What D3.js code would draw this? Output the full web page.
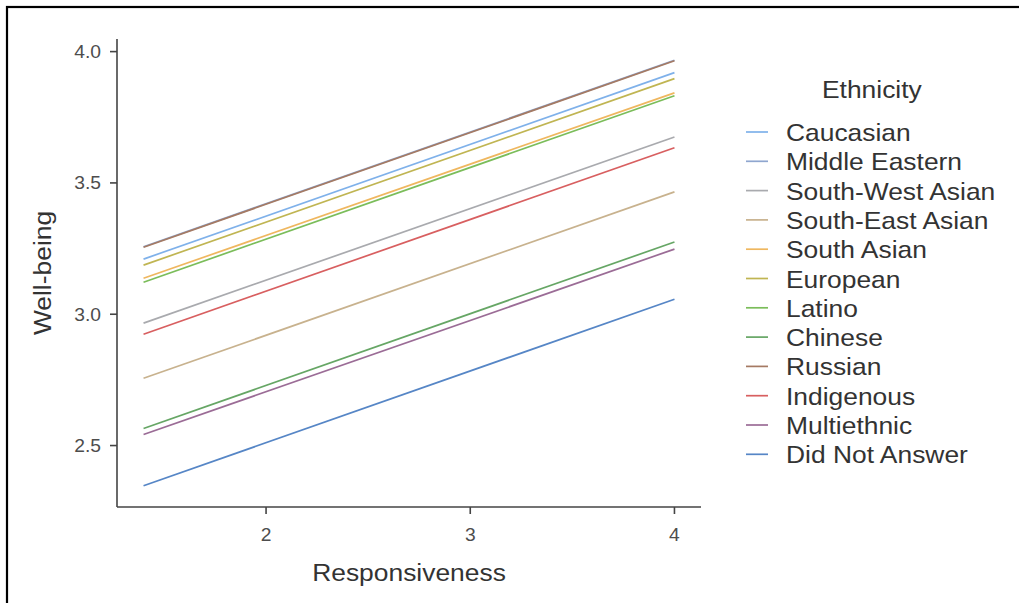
<!DOCTYPE html>
<html lang="en">
<head>
	<meta charset="utf-8">
	<title>Well-being by Responsiveness</title>
	<script type="text/javascript" src="https://cdn.jsdelivr.net/npm/d3@7"></script>
	<style type="text/css">
		body {
			margin: 0;
			background: #fff;
			font-family: "Liberation Sans", Helvetica, Arial, sans-serif;
		}
		svg text {
			font-family: "Liberation Sans", Helvetica, Arial, sans-serif;
		}
	</style>
</head>
<body>
	<div id="viz"></div>
	<script type="text/javascript">
	var W = 1019;
	var H = 603;

	// fitted lines, one per ethnicity, read at responsiveness 1.4 and 4
	var ethnicity = ["Caucasian", "Middle Eastern", "South-West Asian", "South-East Asian", "South Asian",
		"European", "Latino", "Chinese", "Russian", "Indigenous", "Multiethnic", "Did Not Answer"];
	var lineColors = ["#7fb1ea", "#8fa6cf", "#a9aaae", "#c8b28e", "#efb75f",
		"#c0b552", "#7bbd5a", "#66a665", "#a57a63", "#d85f60", "#9b6c96", "#5686c6"];
	var xStart = 1.4;
	var xEnd = 4;
	var wbStart = [3.21, 3.257, 2.966, 2.756, 3.137, 3.187, 3.122, 2.565, 3.255, 2.924, 2.542, 2.347];
	var wbEnd = [3.92, 3.967, 3.675, 3.466, 3.843, 3.897, 3.832, 3.275, 3.965, 3.634, 3.248, 3.057];
	var xTicks = [2, 3, 4];
	var yTicks = [2.5, 3.0, 3.5, 4.0];

	var lines = ethnicity.map(function(e, i) {
		return {name: e, color: lineColors[i], pts: [[xStart, wbStart[i]], [xEnd, wbEnd[i]]]};
	});

	var svg = d3.select("#viz").append("svg")
		.attr("width", W)
		.attr("height", H);

	// frame of the cropped figure
	svg.append("rect")
		.attr("x", 7).attr("y", 7)
		.attr("width", W + 20).attr("height", H + 20)
		.attr("fill", "none")
		.attr("stroke", "#000")
		.attr("stroke-width", 2.2);

	var allY = wbStart.concat(wbEnd);
	var ymin = d3.min(allY), ymax = d3.max(allY);
	var yPad = (ymax - ymin) * 0.05;
	var xPad = (xEnd - xStart) * 0.05;

	var x = d3.scaleLinear().domain([xStart - xPad, xEnd + xPad]).range([117, 701]);
	var y = d3.scaleLinear().domain([ymin - yPad, ymax + yPad]).range([507, 39]);

	// stretched text, the picture is a little wider than tall
	function stext(g, tx, ty, str, size, anchor, fill, rot) {
		var t = g.append("g")
			.attr("transform", "translate(" + tx + "," + ty + ")" + (rot ? " rotate(" + rot + ")" : "") + " scale(1.1,1)")
			.append("text")
			.attr("text-anchor", anchor)
			.attr("font-size", size)
			.attr("fill", fill)
			.text(str);
		return t;
	}

	// axes
	var ax = svg.append("g");
	ax.append("line")
		.attr("x1", 117).attr("x2", 117)
		.attr("y1", 39).attr("y2", 507)
		.attr("stroke", "#444").attr("stroke-width", 1.6);
	ax.append("line")
		.attr("x1", 117).attr("x2", 701)
		.attr("y1", 507).attr("y2", 507)
		.attr("stroke", "#444").attr("stroke-width", 1.6);

	ax.selectAll(".yt").data(yTicks).enter().append("line")
		.attr("x1", 110).attr("x2", 117)
		.attr("y1", function(d){return y(d)})
		.attr("y2", function(d){return y(d)})
		.attr("stroke", "#444").attr("stroke-width", 1.6);
	yTicks.forEach(function(d) {
		stext(ax, 101, y(d) + 6.5, d3.format(".1f")(d), 17.5, "end", "#4d4d4d");
	});

	ax.selectAll(".xt").data(xTicks).enter().append("line")
		.attr("x1", function(d){return x(d)})
		.attr("x2", function(d){return x(d)})
		.attr("y1", 507).attr("y2", 514)
		.attr("stroke", "#444").attr("stroke-width", 1.6);
	xTicks.forEach(function(d) {
		stext(ax, x(d), 541, d3.format("d")(d), 17.5, "middle", "#4d4d4d");
	});

	stext(svg, 409, 581, "Responsiveness", 24, "middle", "#333");
	stext(svg, 51, 273, "Well-being", 24, "middle", "#333", -90);

	// lines
	var line = d3.line()
		.x(function(d){return x(d[0])})
		.y(function(d){return y(d[1])});

	svg.append("g").selectAll("path")
		.data(lines)
		.enter().append("path")
		.attr("d", function(d){return line(d.pts)})
		.attr("fill", "none")
		.attr("stroke", function(d){return d.color})
		.attr("stroke-width", 1.7);

	// legend
	var leg = svg.append("g");
	stext(leg, 822, 98, "Ethnicity", 24, "start", "#333");
	lines.forEach(function(d, i) {
		var cy = 132 + i * 29.3;
		leg.append("line")
			.attr("x1", 746).attr("x2", 768)
			.attr("y1", cy).attr("y2", cy)
			.attr("stroke", d.color)
			.attr("stroke-width", 1.7);
		stext(leg, 786, cy + 9, d.name, 24, "start", "#333");
	});
	</script>
</body>
</html>
